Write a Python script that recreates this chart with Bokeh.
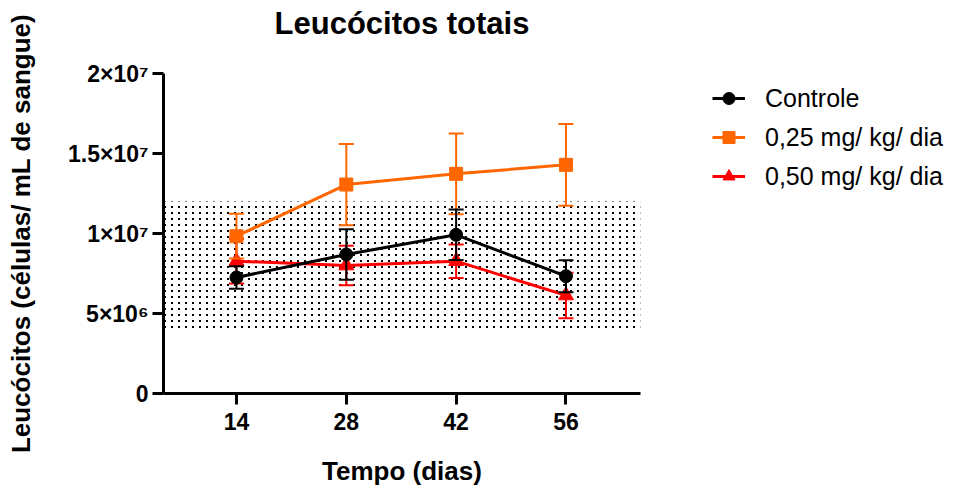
from bokeh.plotting import figure
from bokeh.layouts import row
from bokeh.models import (Range1d, FixedTicker, BoxAnnotation, Legend, LegendItem,
                          ImageURLTexture, Title)
from bokeh.embed import file_html
from bokeh.resources import INLINE
import base64

# ---- data ----
days = [14, 28, 42, 56]
x_tick_labels = ["14", "28", "42", "56"]

controle_mean = [7.25e6, 8.69e6, 9.92e6, 7.33e6]
controle_err = [0.70e6, 1.58e6, 1.58e6, 1.00e6]

dose025_mean = [9.83e6, 13.06e6, 13.73e6, 14.29e6]
dose025_err = [1.40e6, 2.54e6, 2.52e6, 2.56e6]

dose050_mean = [8.27e6, 8.00e6, 8.27e6, 6.13e6]
dose050_err = [1.40e6, 1.23e6, 1.05e6, 1.42e6]

ref_low = 4e6
ref_high = 12e6

y_ticks = [0, 5e6, 1e7, 1.5e7, 2e7]
y_tick_labels = ["0", "5×10⁶", "1×10⁷", "1.5×10⁷", "2×10⁷"]

series_names = ["Controle", "0,25 mg/ kg/ dia", "0,50 mg/ kg/ dia"]
series_colors = ["#000000", "#FF6600", "#FF0000"]
series_markers = ["circle", "square", "triangle"]
series_means = [controle_mean, dose025_mean, dose050_mean]
series_errs = [controle_err, dose025_err, dose050_err]

FONT = "Liberation Sans"

p = figure(width=650, height=489, output_backend="svg", toolbar_location=None,
           x_range=Range1d(4.7, 65.5), y_range=Range1d(0, 2e7),
           min_border_left=163, min_border_top=73, min_border_right=10,
           min_border_bottom=96)
p.outline_line_color = None
p.xgrid.visible = False
p.ygrid.visible = False
p.background_fill_color = "white"

# spacer between frame and title (panel nearest the frame)
p.add_layout(Title(text=" ", text_font_size="1px", standoff=30), "above")

# title
p.title.text = "Leucócitos totais"
p.title.text_font = FONT
p.title.text_font_size = "31px"
p.title.text_font_style = "bold"
p.title.text_color = "black"
p.title.align = "center"
p.title.offset = 5
p.title.standoff = 0

# reference band (dotted texture)
dot_svg = ('<svg xmlns="http://www.w3.org/2000/svg" width="7" height="6">'
           '<rect x="3" y="2" width="2" height="2" fill="black"/></svg>')
dot_url = "data:image/svg+xml;base64," + base64.b64encode(dot_svg.encode()).decode()
band = BoxAnnotation(bottom=ref_low, top=ref_high, fill_alpha=0, line_color=None,
                     hatch_pattern="d", hatch_extra={"d": ImageURLTexture(url=dot_url)},
                     hatch_alpha=1.0, level="underlay")
p.add_layout(band)

# axes
for ax in (p.xaxis[0], p.yaxis[0]):
    ax.axis_line_width = 3
    ax.axis_line_color = "black"
    ax.major_tick_line_width = 3
    ax.major_tick_line_color = "black"
    ax.major_tick_out = 11
    ax.major_tick_in = 0
    ax.minor_tick_line_color = None
    ax.major_label_text_font = FONT
    ax.major_label_text_font_style = "bold"
    ax.major_label_text_font_size = "23px"
    ax.major_label_text_color = "black"
    ax.axis_label_text_font = FONT
    ax.axis_label_text_font_style = "bold"
    ax.axis_label_text_font_size = "26px"
    ax.axis_label_text_color = "black"

p.xaxis.ticker = FixedTicker(ticks=days)
p.xaxis.major_label_overrides = {d: lab for d, lab in zip(days, x_tick_labels)}
p.xaxis.major_label_standoff = 8
p.xaxis.axis_label = "Tempo (dias)"
p.xaxis.axis_label_standoff = 23

p.yaxis.ticker = FixedTicker(ticks=y_ticks)
p.yaxis.major_label_overrides = {t: lab for t, lab in zip(y_ticks, y_tick_labels)}
p.yaxis.major_label_standoff = 4
p.yaxis.axis_label = "Leucócitos (células/ mL de sangue)"
p.yaxis.axis_label_standoff = 29

# ---- legend panel ----
pl = figure(width=305, height=489, output_backend="svg", toolbar_location=None,
            x_axis_type=None, y_axis_type=None,
            x_range=Range1d(10, 11), y_range=Range1d(10, 11),
            min_border_left=0, min_border_right=0, min_border_top=0, min_border_bottom=0)
pl.outline_line_color = None
pl.xgrid.visible = False
pl.ygrid.visible = False

# series (drawn in reverse so Controle is on top)
items = {}
for name, color, marker, mean, err in reversed(list(zip(series_names, series_colors,
                                                          series_markers, series_means,
                                                          series_errs))):
    upper = [m + e for m, e in zip(mean, err)]
    lower = [m - e for m, e in zip(mean, err)]
    p.segment(x0=days, y0=lower, x1=days, y1=upper, line_color=color, line_width=2)
    p.scatter(x=days, y=upper, marker="dash", size=15, line_color=color, line_width=2)
    p.scatter(x=days, y=lower, marker="dash", size=15, line_color=color, line_width=2)
    p.line(x=days, y=mean, line_color=color, line_width=3)
    msize = 15 if marker == "triangle" else 13
    p.scatter(x=days, y=mean, marker=marker, size=msize, fill_color=color,
              line_color=color)
    # legend proxies (outside the visible range of the legend panel)
    ln = pl.line(x=[0], y=[0], line_color=color, line_width=3)
    sc = pl.scatter(x=[0], y=[0], marker=marker, size=msize, fill_color=color,
                    line_color=color)
    items[name] = LegendItem(label=name, renderers=[ln, sc])

legend = Legend(items=[items[n] for n in series_names], location=(62, 202))
legend.label_text_font = FONT
legend.label_text_font_size = "25px"
legend.label_text_color = "black"
legend.glyph_width = 33
legend.glyph_height = 30
legend.label_height = 30
legend.label_standoff = 20
legend.spacing = 9
legend.padding = 0
legend.margin = 0
legend.border_line_color = None
legend.background_fill_alpha = 0
pl.add_layout(legend)

layout = row(p, pl)
open("out.html", "w").write(file_html(layout, INLINE))
